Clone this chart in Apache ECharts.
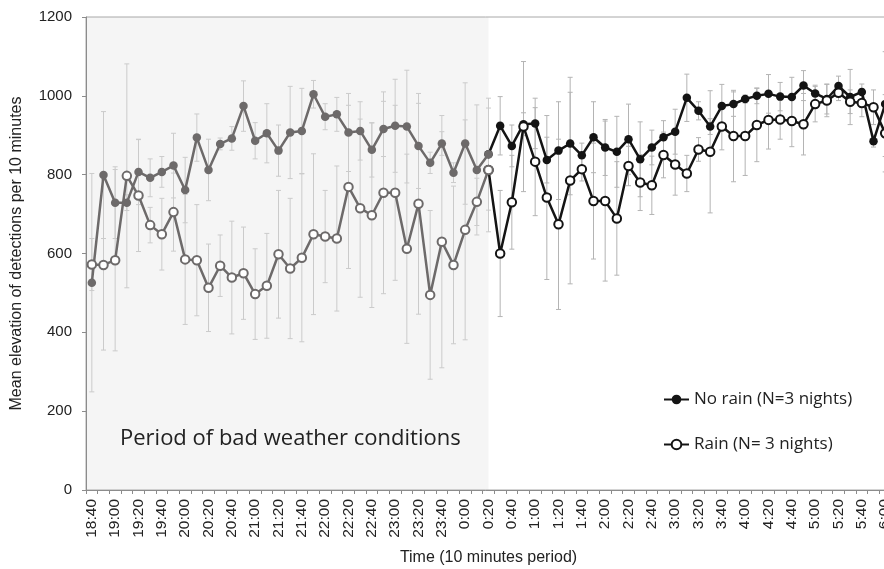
<!DOCTYPE html>
<html>
<head>
<meta charset="utf-8">
<script src="https://cdn.jsdelivr.net/npm/echarts@6/dist/echarts.min.js"></script>
<style>html,body{margin:0;padding:0;background:#fff}#c{width:884px;height:569px}</style>
</head>
<body>
<div id="c"></div>
<script>
const categories = ['18:40','18:50','19:00','19:10','19:20','19:30','19:40','19:50','20:00','20:10','20:20','20:30','20:40','20:50','21:00','21:10','21:20','21:30','21:40','21:50','22:00','22:10','22:20','22:30','22:40','22:50','23:00','23:10','23:20','23:30','23:40','23:50','0:00','0:10','0:20','0:30','0:40','0:50','1:00','1:10','1:20','1:30','1:40','1:50','2:00','2:10','2:20','2:30','2:40','2:50','3:00','3:10','3:20','3:30','3:40','3:50','4:00','4:10','4:20','4:30','4:40','4:50','5:00','5:10','5:20','5:30','5:40','5:50','6:00'];
const badWeatherEnd = '0:20';
const noRainMean = [526,799,729,729,807,792,807,823,761,894,812,878,892,974,886,905,861,907,911,1004,947,953,907,911,863,916,924,922,873,830,879,805,879,812,852,924,873,928,930,837,861,879,849,895,869,858,890,839,869,895,909,995,962,922,974,979,992,1000,1005,998,997,1026,1006,992,1025,997,1010,885,979];
const noRainErr = [277,161,91,20,83,48,39,82,83,60,78,15,30,64,46,75,65,117,108,35,33,43,99,74,69,70,118,143,108,27,30,25,154,165,142,74,53,29,64,58,124,130,31,90,71,90,89,95,44,42,57,60,23,20,55,31,10,20,49,36,50,38,21,38,25,70,20,15,133];
const rainMean = [572,571,583,797,747,672,649,705,585,583,513,569,539,550,497,518,598,562,589,649,643,638,769,715,697,754,754,612,726,495,630,571,660,731,812,600,730,922,833,742,674,785,814,733,733,689,822,780,773,850,826,803,864,858,922,898,898,926,939,940,936,928,979,988,1008,985,982,971,905];
const rainErr = [66,216,230,284,142,45,91,99,165,141,111,78,143,117,115,133,162,178,213,204,117,184,207,226,234,256,222,240,280,214,320,200,279,60,157,160,119,165,137,208,216,262,30,147,203,144,50,71,74,58,78,46,30,155,59,116,100,93,74,50,65,78,45,41,20,30,35,44,98];
const yTicks = {min: 0, max: 1200, step: 200};
const seriesNames = ['No rain (N=3 nights)', 'Rain (N= 3 nights)'];
const shadeLabel = 'Period of bad weather conditions';

const endIdx = categories.indexOf(badWeatherEnd);
const GRAY = '#6d6a6a', BLACK = '#141414';
const part = (arr, before) => arr.map((v, i) => (before ? i <= endIdx : i >= endIdx) ? v : '-');
const errData = [];
categories.forEach((c, i) => {
  errData.push([i, noRainMean[i] - noRainErr[i], noRainMean[i] + noRainErr[i]]);
  errData.push([i, rainMean[i] - rainErr[i], rainMean[i] + rainErr[i]]);
});

const chart = echarts.init(document.getElementById('c'), null, {renderer: 'canvas'});
const font = 'Liberation Sans, Arial, sans-serif';
const lineBase = (name, data, color, hollow, z) => ({
  name, type: 'line', data, z,
  showAllSymbol: true,
  symbol: hollow ? 'emptyCircle' : 'circle', symbolSize: 8.5,
  lineStyle: {color, width: 2.5},
  itemStyle: {color, borderColor: color, borderWidth: hollow ? 2 : 0},
  emphasis: {disabled: true}, animation: false
});
chart.setOption({
  animation: false,
  backgroundColor: '#fff',
  grid: {left: 86, top: 17, width: 805, height: 473, outerBoundsMode: 'none', containLabel: false,
    show: true, borderColor: '#a8a8a8', borderWidth: 1, backgroundColor: 'transparent'},
  legend: {
    data: seriesNames, orient: 'vertical', left: 658, top: 386, itemGap: 28,
    itemWidth: 25, itemHeight: 12,
    textStyle: {fontFamily: 'Open Sans, Noto Sans, sans-serif', fontSize: 17, color: '#222'}
  },
  xAxis: {
    type: 'category', data: categories, boundaryGap: true,
    name: 'Time (10 minutes period)', nameLocation: 'middle', nameGap: 60,
    nameTextStyle: {fontFamily: font, fontSize: 16, color: '#222'},
    axisLine: {lineStyle: {color: '#8c8c8c'}},
    axisTick: {show: true, interval: 0, length: 4, lineStyle: {color: '#8c8c8c'}},
    axisLabel: {interval: 1, rotate: 90, fontFamily: font, fontSize: 15.5, color: '#222', margin: 9}
  },
  yAxis: {
    type: 'value', min: yTicks.min, max: yTicks.max, interval: yTicks.step,
    name: 'Mean elevation of detections per 10 minutes', nameLocation: 'middle', nameGap: 61,
    nameTextStyle: {fontFamily: font, fontSize: 16, color: '#222'},
    splitLine: {show: false},
    axisLine: {show: true, lineStyle: {color: '#8c8c8c'}},
    axisTick: {show: true, length: 4, lineStyle: {color: '#8c8c8c'}},
    axisLabel: {fontFamily: font, fontSize: 15, color: '#222', margin: 14, formatter: v => String(v)}
  },
  graphic: [{
    type: 'text', left: 120, top: 428, z: 10,
    style: {text: shadeLabel, font: '22px "Open Sans", "Noto Sans", sans-serif', fill: '#222'}
  }],
  series: [
    {
      type: 'custom', name: 'shade', z: -1, silent: true, data: [[endIdx]],
      renderItem: (params, api) => {
        const p = api.coord([api.value(0), 0]);
        const cs = params.coordSys;
        return {type: 'rect', shape: {x: cs.x, y: cs.y, width: p[0] - cs.x, height: cs.height}, style: {fill: '#f5f5f5'}};
      }
    },
    {
      type: 'custom', name: 'err', z: 1, silent: true, data: errData,
      encode: {x: 0, y: [1, 2]},
      renderItem: (params, api) => {
        const i = api.value(0);
        const lo = api.coord([i, api.value(1)]);
        const hi = api.coord([i, api.value(2)]);
        const w = 2.5;
        const col = i <= endIdx ? '#cbcbcb' : '#b4b4b4';
        const st = {stroke: col, lineWidth: 1};
        return {type: 'group', children: [
          {type: 'line', shape: {x1: lo[0], y1: lo[1], x2: hi[0], y2: hi[1]}, style: st},
          {type: 'line', shape: {x1: lo[0] - w, y1: lo[1], x2: lo[0] + w, y2: lo[1]}, style: st},
          {type: 'line', shape: {x1: hi[0] - w, y1: hi[1], x2: hi[0] + w, y2: hi[1]}, style: st}
        ]};
      }
    },
    lineBase(seriesNames[0], part(noRainMean, false), BLACK, false, 3),
    lineBase(seriesNames[1], part(rainMean, false), BLACK, true, 3),
    lineBase('nr-bad', part(noRainMean, true), GRAY, false, 4),
    lineBase('r-bad', part(rainMean, true), GRAY, true, 4)
  ]
});
</script>
</body>
</html>
